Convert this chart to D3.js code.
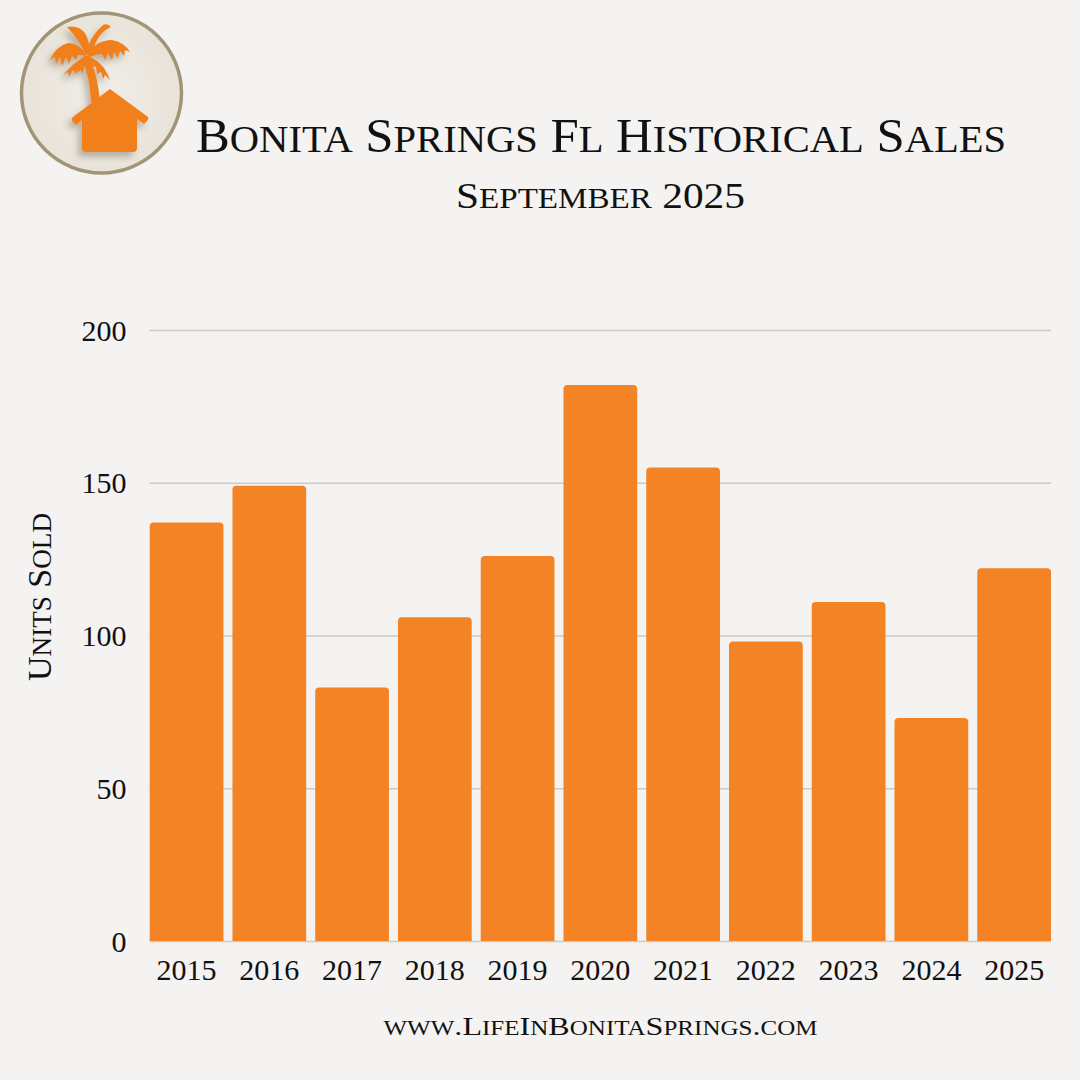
<!DOCTYPE html>
<html>
<head>
<meta charset="utf-8">
<script src="https://cdn.jsdelivr.net/npm/d3@7"></script>
<style>
  html, body { margin: 0; padding: 0; background: #f4f3f1; }
  svg { display: block; }
  text { font-family: "Liberation Serif", "DejaVu Serif", serif; fill: #111; }
  tspan.sc { text-transform: uppercase; }
</style>
</head>
<body>
<svg id="chart" width="1080" height="1080"></svg>
<script>
const years = ["2015","2016","2017","2018","2019","2020","2021","2022","2023","2024","2025"];
const unitsSold = [137, 149, 83, 106, 126, 182, 155, 98, 111, 73, 122];
const yTicks = [0, 50, 100, 150, 200];
const titleText = "Bonita Springs Fl Historical Sales";
const subtitleText = "September 2025";
const yAxisLabel = "Units Sold";
const footerText = "www.LifeInBonitaSprings.com";

const svg = d3.select("#chart");
const W = 1080, H = 1080;
svg.append("rect").attr("width", W).attr("height", H).attr("fill", "#f4f3f1");

// small-caps text helper: lowercase letters drawn as smaller capitals
function smallCaps(textSel, str, size, ratio) {
  const runs = [];
  for (const ch of str) {
    const low = ch !== ch.toUpperCase();
    if (runs.length && runs[runs.length - 1].low === low) runs[runs.length - 1].s += ch;
    else runs.push({ low, s: ch });
  }
  textSel.attr("font-size", size);
  runs.forEach(rn => {
    const t = textSel.append("tspan").text(rn.s);
    if (rn.low) t.attr("class", "sc").attr("font-size", size * ratio);
  });
  return textSel;
}

const x = d3.scaleBand().domain(years).range([149.7, 1051]).paddingInner(0.109).paddingOuter(0);
const y = d3.scaleLinear().domain([0, 200]).range([941, 330]);

// gridlines + y tick labels
const yAxis = d3.axisLeft(y).tickValues(yTicks).tickSize(-(1051 - 149.5)).tickPadding(23).tickFormat(d3.format("d"));
const gy = svg.append("g").attr("transform", "translate(149.5,0)").call(yAxis);
gy.select(".domain").remove();
gy.selectAll(".tick line").attr("stroke", "#cdcbc8").attr("stroke-width", 1.3);
gy.selectAll(".tick text").attr("font-size", 30).attr("fill", "#111")
  .attr("font-family", "Liberation Serif, serif").attr("dy", "0.34em");

// bars with rounded top
const r = 4;
function barPath(d, i) {
  const x0 = x(years[i]), w = x.bandwidth(), y0 = y(d), yb = y(0);
  return `M${x0},${yb}V${y0 + r}Q${x0},${y0} ${x0 + r},${y0}H${x0 + w - r}Q${x0 + w},${y0} ${x0 + w},${y0 + r}V${yb}Z`;
}
svg.append("g").selectAll("path").data(unitsSold).join("path")
  .attr("d", barPath).attr("fill", "#f48326");

// x labels
const xAxis = d3.axisBottom(x).tickSize(0).tickPadding(18);
const gx = svg.append("g").attr("transform", `translate(0,${y(0)})`).call(xAxis);
gx.select(".domain").remove();
gx.selectAll(".tick text").attr("font-size", 30).attr("fill", "#111")
  .attr("font-family", "Liberation Serif, serif").attr("dy", "0.7em");

// y axis title
smallCaps(svg.append("text").attr("transform", "translate(51,597) rotate(-90)")
  .attr("text-anchor", "middle").attr("textLength", 168).attr("lengthAdjust", "spacingAndGlyphs"),
  yAxisLabel, 34, 0.8);

// title & subtitle
smallCaps(svg.append("text").attr("x", 601).attr("y", 152).attr("text-anchor", "middle")
  .attr("textLength", 810).attr("lengthAdjust", "spacingAndGlyphs"), titleText, 48, 0.8);
smallCaps(svg.append("text").attr("x", 600.5).attr("y", 208).attr("text-anchor", "middle")
  .attr("textLength", 289).attr("lengthAdjust", "spacingAndGlyphs"), subtitleText, 36, 0.8);

// footer
smallCaps(svg.append("text").attr("x", 600.5).attr("y", 1035).attr("text-anchor", "middle")
  .attr("textLength", 434).attr("lengthAdjust", "spacingAndGlyphs"), footerText, 26, 0.78);

// logo
const defs = svg.append("defs");
const f = defs.append("filter").attr("id", "shadow").attr("x", "-30%").attr("y", "-30%").attr("width", "160%").attr("height", "160%");
f.append("feDropShadow").attr("dx", -4).attr("dy", 5).attr("stdDeviation", 3)
  .attr("flood-color", "#5a4a30").attr("flood-opacity", 0.35);
const rg = defs.append("radialGradient").attr("id", "logoBg");
rg.append("stop").attr("offset", "0%").attr("stop-color", "#f1eee8");
rg.append("stop").attr("offset", "100%").attr("stop-color", "#e9e4da");

const logo = svg.append("g");
logo.append("circle").attr("cx", 101.5).attr("cy", 93).attr("r", 80).attr("fill", "url(#logoBg)")
  .attr("stroke", "#a29577").attr("stroke-width", 3.5);
const icon = logo.append("g").attr("filter", "url(#shadow)").attr("fill", "#f07f1e");
// trunk
icon.append("path").attr("d", "M82,58 Q90,78 91,102 L100,102 Q98,76 89,55 Z");
// fronds
const fronds = [
  "M86,55 Q78,38 67,27 Q78,25 85,33 Q90,42 90,54 Z",
  "M86,54 Q90,36 103,25 Q108,23 111,27 Q100,32 96,42 Q92,50 90,56 Z",
  "M88,54 Q96,40 112,40 Q124,42 130,52 L125,50 L124,56 L120,51 L118,58 L114,52 L112,60 L108,53 L105,60 L102,54 Q96,54 90,57 Z",
  "M86,55 Q80,43 68,43 Q56,46 50,60 L55,57 L56,64 L60,57 L62,66 L66,57 L69,64 L72,56 L76,60 L78,55 Q82,54 86,57 Z",
  "M86,56 Q74,62 63,75 L68,72 L69,77 L73,70 L76,74 L78,67 L82,68 Q84,62 88,58 Z",
  "M88,56 Q98,60 104,68 Q108,74 110,80 L105,75 L103,79 L101,72 L97,74 L96,67 L92,66 Q90,60 87,58 Z",
  "M84,56 Q78,64 77,73 L81,70 L82,74 L85,66 Q86,60 88,57 Z"
];
icon.selectAll(".frond").data(fronds).join("path").attr("class", "frond").attr("d", d => d);
// house
icon.append("path").attr("d",
  "M110,89 L148,117 Q149,119 147,121 L144,124 L137,119 L137,148 Q137,152 133,152 L86,152 Q82,152 82,148 L82,120 L76,125 L72,121 Q71,119 73,117 Z");
</script>
</body>
</html>
